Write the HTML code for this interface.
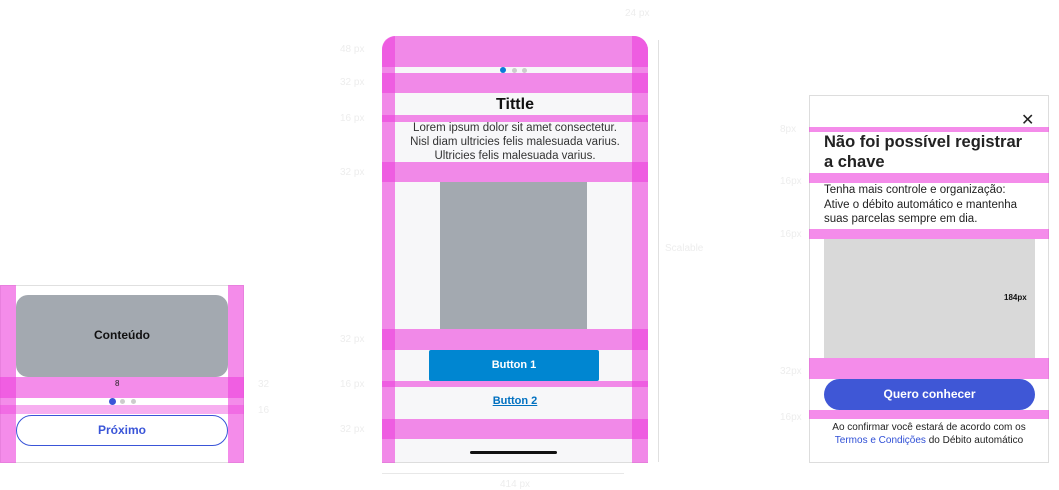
<!DOCTYPE html>
<html><head><meta charset="utf-8"><style>
*{margin:0;padding:0;box-sizing:border-box}
body{width:1059px;height:490px;background:#fff;position:relative;overflow:hidden;font-family:"Liberation Sans",sans-serif}
div,span{position:absolute}
.pk{background:rgba(236,64,220,0.6)}
.t{white-space:nowrap}
.lbl{color:#ededed;font-size:10px}
</style></head><body>

<!-- LEFT COMPONENT -->
<div style="left:0;top:285px;width:244px;height:178px;border:1px solid #e0e0e0;background:#fff"></div>
<div style="left:16px;top:295px;width:212px;height:82px;background:#a3a9b0;border-radius:12px"></div>
<span class="t" style="left:16px;width:212px;top:328px;text-align:center;font-weight:bold;font-size:12px;color:#111">Conteúdo</span>
<div class="pk" style="left:0;top:285px;width:16px;height:178px"></div>
<div class="pk" style="left:228px;top:285px;width:16px;height:178px"></div>
<div class="pk" style="left:0;top:377px;width:244px;height:21px"></div>
<div class="pk" style="left:0;top:405px;width:244px;height:9px;opacity:.7"></div>
<span class="t" style="left:115px;top:379px;font-size:8px;color:#222">8</span>
<div style="left:109px;top:398px;width:7px;height:7px;border-radius:50%;background:#3a55d8"></div>
<div style="left:120px;top:399px;width:5px;height:5px;border-radius:50%;background:#ccc"></div>
<div style="left:131px;top:399px;width:5px;height:5px;border-radius:50%;background:#ccc"></div>
<div style="left:16px;top:415px;width:212px;height:31px;border:1.5px solid #3a55d8;border-radius:16px;background:#fff;color:#3a55d8;font-weight:bold;font-size:12px;text-align:center;line-height:28px">Próximo</div>
<span class="t lbl" style="left:258px;top:379px">32</span>
<span class="t lbl" style="left:258px;top:405px">16</span>

<!-- MIDDLE PHONE -->
<div style="left:382px;top:36px;width:266px;height:427px;background:#f7f7f9;border-radius:14px 14px 0 0;border-bottom:1px solid #ddd;overflow:hidden">
 <div class="pk" style="left:0;top:0;width:266px;height:31px"></div>
</div>
<div class="pk" style="left:382px;top:36px;width:13px;height:427px;border-radius:14px 0 0 0"></div>
<div class="pk" style="left:632px;top:36px;width:16px;height:427px;border-radius:0 14px 0 0"></div>
<div style="left:500px;top:67px;width:6px;height:6px;border-radius:50%;background:#0a7bd8"></div>
<div style="left:512px;top:68px;width:5px;height:5px;border-radius:50%;background:#ccc"></div>
<div style="left:522px;top:68px;width:5px;height:5px;border-radius:50%;background:#ccc"></div>
<div class="pk" style="left:382px;top:73px;width:266px;height:20px"></div>
<span class="t" style="left:382px;width:266px;top:96px;text-align:center;font-weight:bold;font-size:16px;color:#111">Tittle</span>
<div class="pk" style="left:382px;top:115px;width:266px;height:7px"></div>
<div style="left:382px;width:266px;top:121px;text-align:center;font-size:11.5px;line-height:14px;color:#333">Lorem ipsum dolor sit amet consectetur.<br>Nisl diam ultricies felis malesuada varius.<br>Ultricies felis malesuada varius.</div>
<div class="pk" style="left:382px;top:162px;width:266px;height:20px"></div>
<div style="left:440px;top:182px;width:147px;height:147px;background:#a3a9b0"></div>
<div class="pk" style="left:382px;top:329px;width:266px;height:21px"></div>
<div style="left:429px;top:350px;width:170px;height:31px;background:#0086d1;border-radius:2px;color:#fff;font-weight:bold;font-size:11px;text-align:center;line-height:31px">Button 1</div>
<div class="pk" style="left:382px;top:381px;width:266px;height:6px"></div>
<span class="t" style="left:382px;width:266px;top:395px;text-align:center;font-weight:bold;font-size:11px;color:#0070c0;text-decoration:underline">Button 2</span>
<div class="pk" style="left:382px;top:419px;width:266px;height:20px"></div>
<div style="left:470px;top:451px;width:87px;height:3px;background:#111;border-radius:2px"></div>
<div style="left:658px;top:40px;width:1px;height:422px;background:#e0e0e0"></div>
<span class="t lbl" style="left:665px;top:243px">Scalable</span>
<div style="left:382px;top:473px;width:242px;height:1px;background:#e8e8e8"></div>
<span class="t lbl" style="left:500px;top:479px">414 px</span>
<span class="t lbl" style="left:340px;top:44px">48 px</span>
<span class="t lbl" style="left:340px;top:77px">32 px</span>
<span class="t lbl" style="left:340px;top:113px">16 px</span>
<span class="t lbl" style="left:340px;top:167px">32 px</span>
<span class="t lbl" style="left:340px;top:334px">32 px</span>
<span class="t lbl" style="left:340px;top:379px">16 px</span>
<span class="t lbl" style="left:340px;top:424px">32 px</span>
<span class="t lbl" style="left:625px;top:8px">24 px</span>

<!-- RIGHT DIALOG -->
<div style="left:809px;top:95px;width:240px;height:368px;border:1px solid #ddd;background:#fff"></div>
<span class="t" style="left:1021px;top:110px;font-size:16px;color:#222">✕</span>
<div class="pk" style="left:809px;top:127px;width:240px;height:5px"></div>
<div style="left:824px;top:132px;width:220px;font-weight:bold;font-size:16.5px;line-height:20px;color:#222">Não foi possível registrar<br>a chave</div>
<div class="pk" style="left:809px;top:173px;width:240px;height:10px"></div>
<div style="left:824px;top:183px;width:220px;font-size:11.5px;line-height:14.5px;color:#222">Tenha mais controle e organização:<br>Ative o débito automático e mantenha<br>suas parcelas sempre em dia.</div>
<div class="pk" style="left:809px;top:229px;width:240px;height:10px"></div>
<div style="left:824px;top:239px;width:211px;height:119px;background:#d9d9d9"></div>
<span class="t" style="left:1004px;top:293px;font-size:8px;font-weight:bold;color:#111">184px</span>
<div class="pk" style="left:809px;top:358px;width:240px;height:21px"></div>
<div style="left:824px;top:379px;width:211px;height:31px;background:#3f57d6;border-radius:16px;color:#fff;font-weight:bold;font-size:12px;text-align:center;line-height:31px">Quero conhecer</div>
<div class="pk" style="left:809px;top:410px;width:240px;height:9px"></div>
<div style="left:809px;top:421px;width:240px;text-align:center;font-size:10px;line-height:13px;color:#222">Ao confirmar você estará de acordo com os<br><span style="position:static;color:#2f4fd6">Termos e Condições</span> do Débito automático</div>
<span class="t lbl" style="left:780px;top:124px">8px</span>
<span class="t lbl" style="left:780px;top:176px">16px</span>
<span class="t lbl" style="left:780px;top:229px">16px</span>
<span class="t lbl" style="left:780px;top:366px">32px</span>
<span class="t lbl" style="left:780px;top:412px">16px</span>
</body></html>
